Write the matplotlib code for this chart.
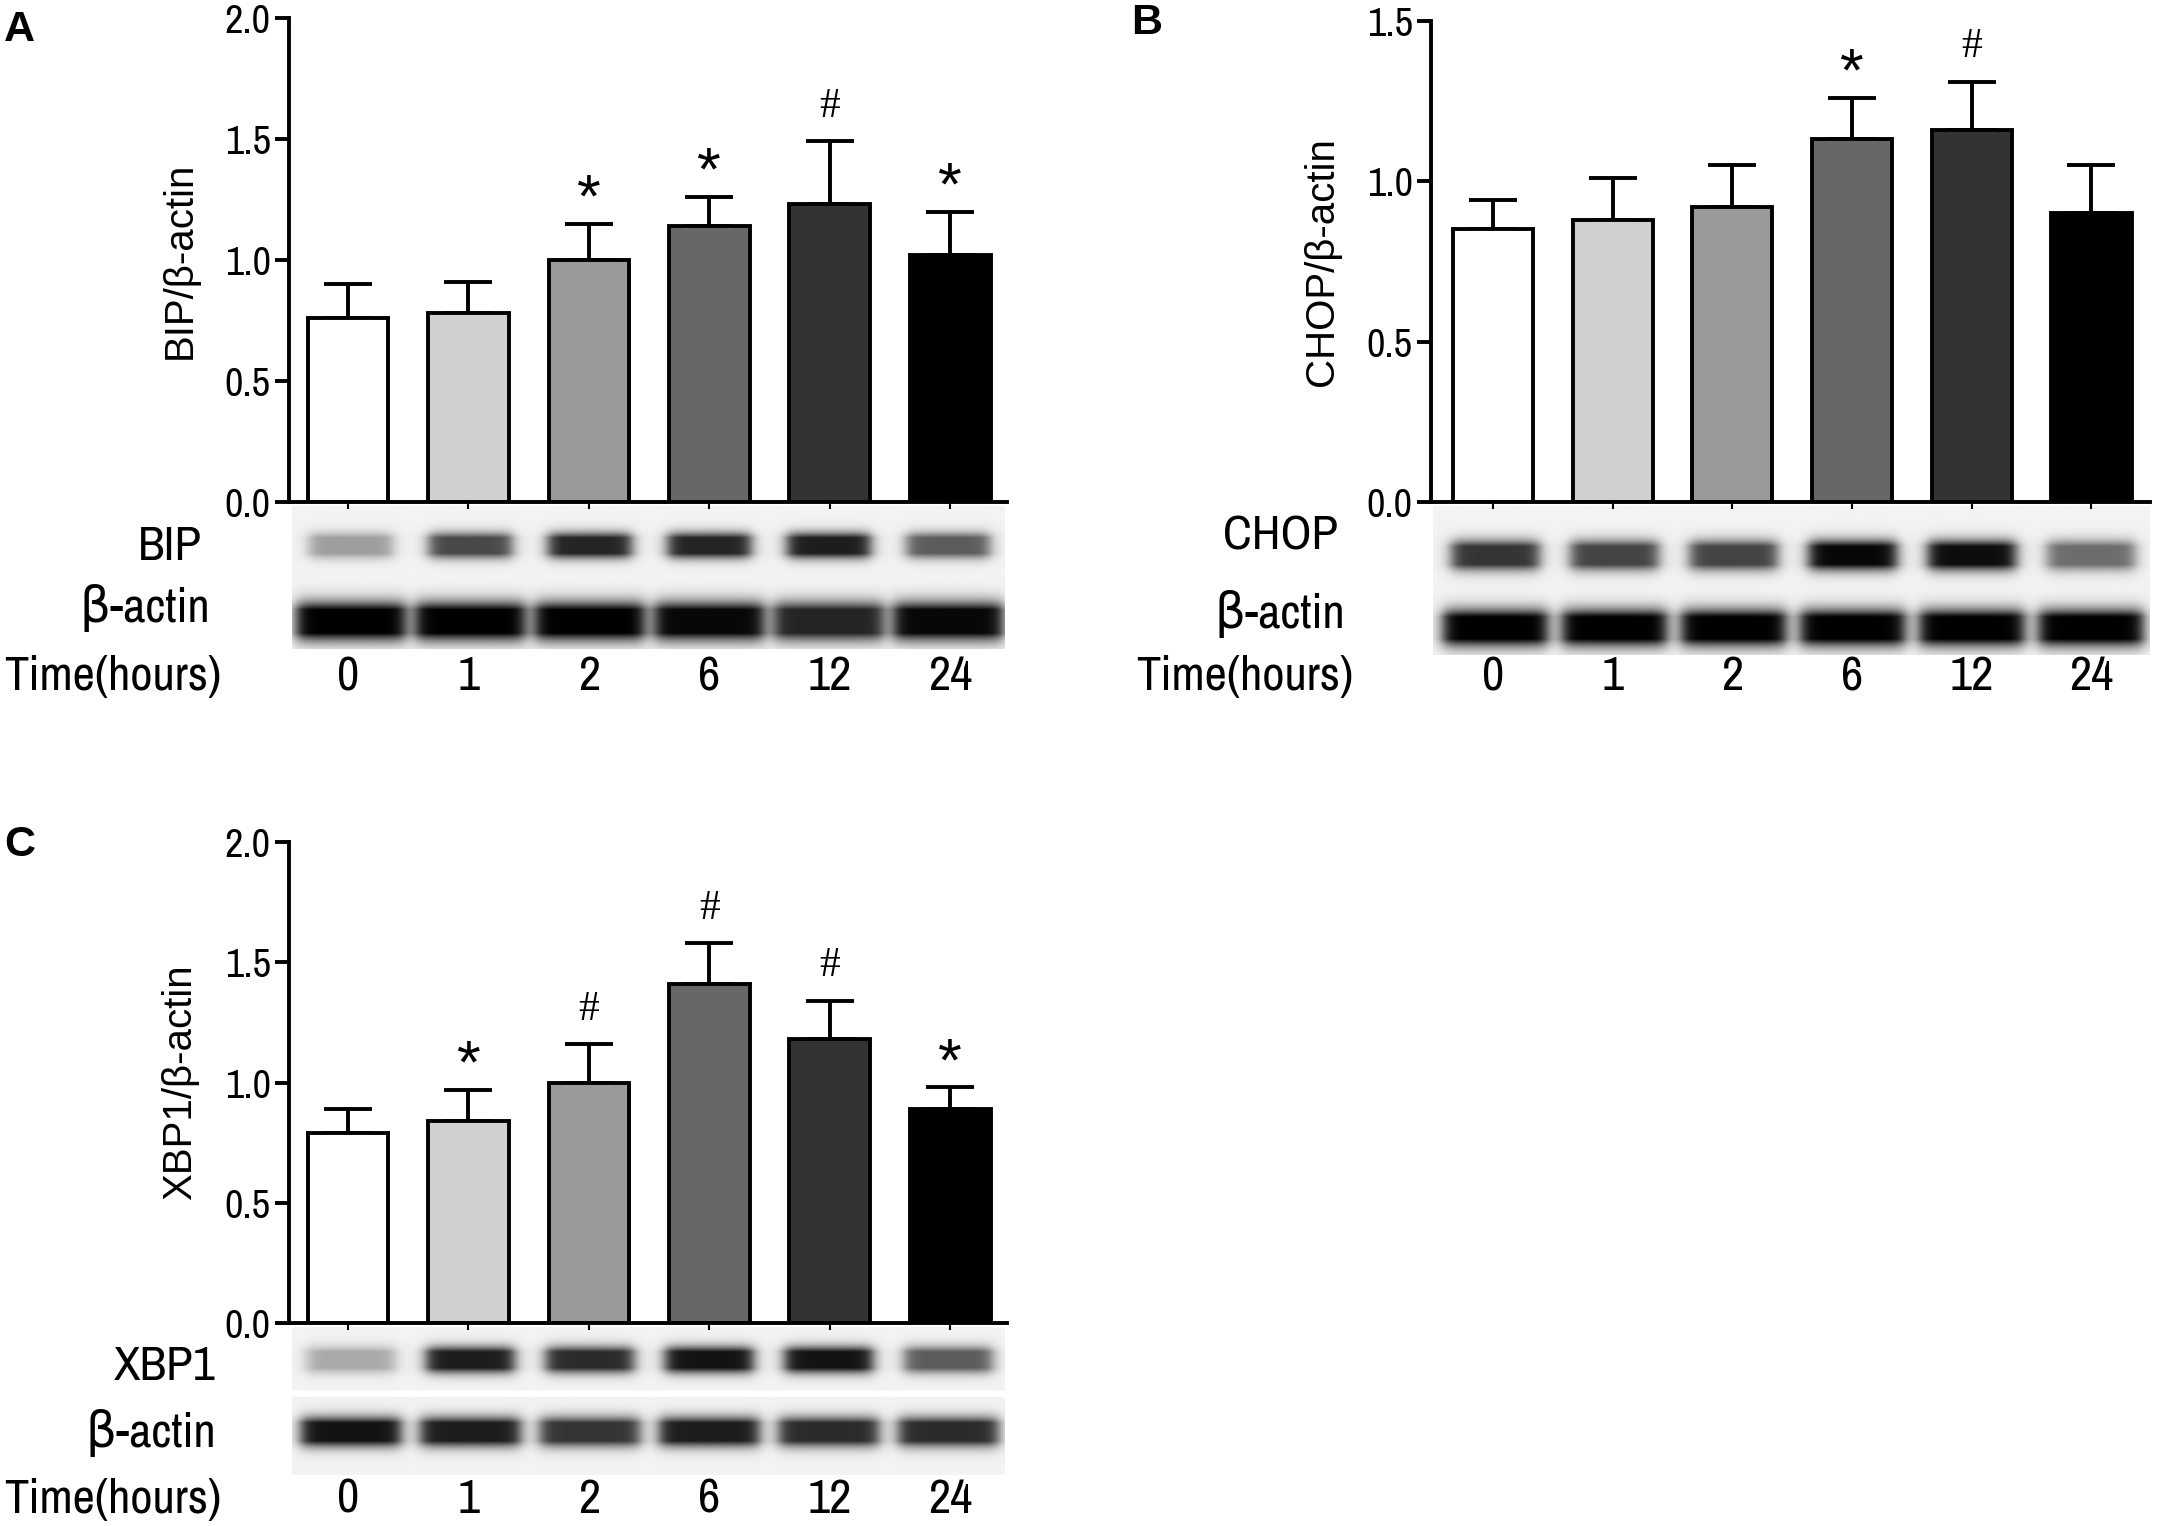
import numpy as np
import matplotlib
matplotlib.use("Agg")
import matplotlib.pyplot as plt
from matplotlib import font_manager as fm

# ---------------- data ----------------
time_labels = ["0", "1", "2", "6", "12", "24"]
bar_colors = ["#ffffff", "#d0d0d0", "#9a9a9a", "#676767", "#333333", "#000000"]

bip_mean = [0.76, 0.78, 1.00, 1.14, 1.23, 1.02]
bip_err_top = [0.90, 0.91, 1.15, 1.26, 1.49, 1.20]
bip_marks = ["", "", "*", "*", "#", "*"]

chop_mean = [0.85, 0.88, 0.92, 1.13, 1.16, 0.90]
chop_err_top = [0.94, 1.01, 1.05, 1.26, 1.31, 1.05]
chop_marks = ["", "", "", "*", "#", ""]

xbp1_mean = [0.79, 0.84, 1.00, 1.41, 1.18, 0.89]
xbp1_err_top = [0.89, 0.97, 1.16, 1.58, 1.34, 0.98]
xbp1_marks = ["", "*", "#", "#", "#", "*"]

# band darkness read from the blots (0 = none, 1 = saturated)
bip_band = [0.35, 0.70, 0.85, 0.85, 0.88, 0.62]
bip_actin_band = [1.00, 1.00, 1.00, 0.97, 0.85, 0.97]
chop_band = [0.78, 0.72, 0.72, 0.97, 0.95, 0.55]
chop_actin_band = [1.00, 1.00, 1.00, 1.00, 1.00, 1.00]
xbp1_band = [0.30, 0.88, 0.82, 0.92, 0.92, 0.62]
xbp1_actin_band = [0.92, 0.88, 0.78, 0.88, 0.82, 0.82]


def pick(cands, default):
    for n in cands:
        try:
            fm.findfont(fm.FontProperties(family=n), fallback_to_default=False)
            return [n, "DejaVu Sans"]
        except Exception:
            pass
    return [default]


NARROW = pick(["Liberation Sans Narrow", "Arial Narrow", "Archivo Narrow",
               "Roboto Condensed", "Barlow Semi Condensed"], "DejaVu Sans")
ARIAL = pick(["Arimo", "Liberation Sans", "Arial"], "DejaVu Sans")
SERIF = pick(["Tinos", "Liberation Serif", "Times New Roman"], "DejaVu Serif")

# ---------------- layout helpers ----------------
W, H = 2157, 1526
S = 2157 / 1568.0
HD = H / S  # display height


def fx(x):
    return x / 1568.0


def fy(y):
    return 1 - y / HD


fig = plt.figure(figsize=(W / 100, H / 100), dpi=100)
fig.patch.set_facecolor("white")

LW = 2.8
TXT = 35


def blot_image(xlim, rows, centers, sigmas, widths, gaps=None):
    nx, ny = 700, 140
    xs = np.linspace(xlim[0], xlim[1], nx)
    ys = np.linspace(0, 1, ny)
    X, Y = np.meshgrid(xs, ys)
    img = np.full_like(X, 0.95)
    for band, yc, sg, hw in zip(rows, centers, sigmas, widths):
        for i, amp in enumerate(band):
            gx = 1.0 / (1.0 + np.exp((np.abs(X - i) - hw) / 0.035))
            gy = np.exp(-((Y - yc) / sg) ** 2)
            img -= 0.95 * amp * gx * np.clip(gy * 1.6, 0, 1)
    if gaps is not None:
        for g0, g1 in gaps:
            img[(Y > g0) & (Y < g1)] = 1.0
    return np.clip(img, 0, 1)


def panel(letter, rect_px, ymax, means, errs, marks, ylabel, xlim,
          blot_px, rows, centers, sigmas, widths, row_labels, label_px,
          time_px, gaps=None):
    l, t, r, b = rect_px
    ax = fig.add_axes([fx(l), fy(b), fx(r) - fx(l), fy(t) - fy(b)])
    x = np.arange(len(means))
    yerr = [np.zeros(len(means)), np.array(errs) - np.array(means)]
    ax.errorbar(x, means, yerr=yerr, fmt="none", ecolor="black",
                elinewidth=LW, capsize=17, capthick=LW, zorder=1)
    ax.bar(x, means, width=0.67, color=bar_colors, edgecolor="black",
           linewidth=LW, zorder=2)
    for xi, e, m in zip(x, errs, marks):
        if m == "*":
            ax.annotate("*", (xi, e), xytext=(0, -4), textcoords="offset points",
                        ha="center", va="bottom", fontsize=44, family=ARIAL)
        elif m == "#":
            ax.annotate("#", (xi, e), xytext=(0, 11), textcoords="offset points",
                        ha="center", va="bottom", fontsize=30, family=SERIF)
    ax.set_xlim(*xlim)
    ax.set_ylim(0, ymax)
    ticks = np.arange(0, ymax + 0.01, 0.5)
    ax.set_yticks(ticks)
    ax.set_yticklabels([f"{v:.1f}" for v in ticks], family=NARROW, fontsize=29)
    ax.set_xticks(x)
    ax.set_xticklabels([])
    ax.tick_params(axis="y", direction="out", length=10, width=LW, pad=3)
    ax.tick_params(axis="x", direction="out", length=5, width=1.5)
    for s in ["top", "right"]:
        ax.spines[s].set_visible(False)
    for s in ["left", "bottom"]:
        ax.spines[s].set_linewidth(LW)
    ax.set_ylabel(ylabel, family=ARIAL, fontsize=29)
    ax.yaxis.set_label_coords(-0.125, 0.5)
    ax.patch.set_alpha(0)

    # blot
    bl, bt, br, bb = blot_px
    bax = fig.add_axes([fx(bl), fy(bb), fx(br) - fx(bl), fy(bt) - fy(bb)])
    img = blot_image(xlim, rows, centers, sigmas, widths, gaps)
    bax.imshow(img, cmap="gray", vmin=0, vmax=1, aspect="auto",
               extent=(xlim[0], xlim[1], 1, 0), interpolation="bilinear")
    bax.set_xlim(*xlim)
    bax.set_ylim(1, 0)
    bax.axis("off")
    ax.set_zorder(bax.get_zorder() + 1)

    for txt, (lx, ly) in zip(row_labels, label_px):
        fig.text(fx(lx), fy(ly), txt, ha="right", va="center",
                 family=NARROW, fontsize=TXT)
    tx, ty = time_px
    fig.text(fx(tx), fy(ty), "Time(hours)", ha="left", va="center",
             family=NARROW, fontsize=TXT)
    for xi, lab in zip(x, time_labels):
        xd = ax.transData.transform((xi, 0))[0]
        xf = fig.transFigure.inverted().transform((xd, 0))[0]
        fig.text(xf, fy(ty), lab, ha="center", va="center",
                 family=NARROW, fontsize=TXT)
    fig.text(fx(letter[1]), fy(letter[2]), letter[0], ha="left", va="center",
             family=ARIAL, fontsize=31, fontweight="bold")
    return ax


panel(("A", 3, 22), (210, 13, 732, 365), 2.0, bip_mean, bip_err_top,
      bip_marks, "BIP/β-actin", (-0.49, 5.47),
      (212, 368, 730, 472), [bip_band, bip_actin_band], [0.28, 0.81],
      [0.08, 0.12], [0.35, 0.46], ["BIP", "β-actin"],
      [(147, 397), (153, 442)], (3, 492))

panel(("B", 822, 17), (1040, 15, 1563, 365), 1.5, chop_mean, chop_err_top,
      chop_marks, "CHOP/β-actin", (-0.52, 5.49),
      (1042, 368, 1563, 476), [chop_band, chop_actin_band], [0.33, 0.82],
      [0.09, 0.11], [0.37, 0.44], ["CHOP", "β-actin"],
      [(973, 390), (978, 446)], (826, 492))

panel(("C", 3, 614), (210, 612, 732, 962), 2.0, xbp1_mean, xbp1_err_top,
      xbp1_marks, "XBP1/β-actin", (-0.49, 5.47),
      (212, 965, 730, 1072), [xbp1_band, xbp1_actin_band], [0.22, 0.71],
      [0.08, 0.09], [0.37, 0.42], ["XBP1", "β-actin"],
      [(157, 993), (157, 1042)], (3, 1090), gaps=[(0.43, 0.47)])

fig.savefig("out.png", dpi=100, facecolor="white")
